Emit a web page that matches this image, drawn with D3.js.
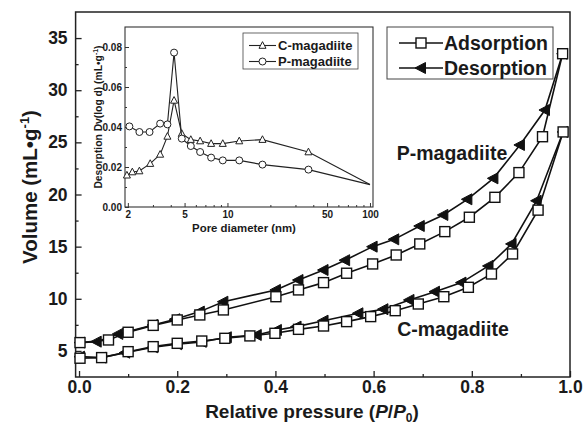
<!DOCTYPE html>
<html>
<head>
<meta charset="utf-8">
<script src="https://cdn.jsdelivr.net/npm/d3@7"></script>
<style>
body { margin: 0; background: #fff; }
text { font-family: Arial, "Liberation Sans", sans-serif; font-weight: bold; fill: #1a1a1a; }
</style>
</head>
<body>
<script>
// isotherm data, relative pressure vs volume
var pAdsX = [0.002, 0.06, 0.10, 0.151, 0.2, 0.246, 0.294, 0.401, 0.447, 0.498, 0.545, 0.598, 0.646, 0.694, 0.745, 0.795, 0.847, 0.896, 0.944, 0.985];
var pAdsY = [5.8, 6.05, 6.79, 7.45, 7.97, 8.45, 8.93, 10.2, 10.85, 11.55, 12.45, 13.34, 14.2, 15.26, 16.44, 17.82, 19.73, 22.1, 25.54, 33.5];
var pDesX = [0.002, 0.036, 0.08, 0.151, 0.196, 0.246, 0.294, 0.401, 0.447, 0.498, 0.542, 0.598, 0.642, 0.694, 0.742, 0.791, 0.844, 0.898, 0.949, 0.985];
var pDesY = [5.8, 5.89, 6.63, 7.49, 8.04, 8.77, 9.72, 10.85, 11.8, 12.76, 13.7, 15.0, 15.7, 16.98, 18.04, 19.54, 21.55, 24.75, 28.1, 33.5];
var cAdsX = [0.002, 0.046, 0.10, 0.151, 0.2, 0.25, 0.297, 0.348, 0.399, 0.447, 0.498, 0.545, 0.594, 0.644, 0.691, 0.743, 0.793, 0.84, 0.883, 0.935, 0.986];
var cAdsY = [4.3, 4.36, 4.93, 5.41, 5.73, 5.95, 6.21, 6.44, 6.69, 7.07, 7.39, 7.81, 8.29, 8.86, 9.5, 10.2, 11.1, 12.38, 14.3, 18.5, 26.0];
var cDesX = [0.002, 0.046, 0.094, 0.151, 0.2, 0.25, 0.301, 0.362, 0.403, 0.443, 0.498, 0.569, 0.62, 0.673, 0.725, 0.779, 0.834, 0.881, 0.932, 0.986];
var cDesY = [4.45, 4.36, 4.83, 5.35, 5.64, 5.87, 6.31, 6.53, 7.01, 7.33, 7.9, 8.61, 9.0, 9.89, 10.68, 11.55, 13.15, 15.26, 19.4, 26.0];

// inset: pore size distribution
var poreX = [1.97, 2.15, 2.41, 2.87, 3.37, 3.79, 4.22, 4.78, 5.53, 6.43, 7.68, 9.27, 12.1, 17.6, 37, 100];
var cPore = [0.0159, 0.0175, 0.018, 0.0217, 0.0263, 0.0353, 0.0533, 0.0367, 0.0337, 0.033, 0.0317, 0.0317, 0.033, 0.0337, 0.0275, 0.0112];
var pPoreX = [2.05, 2.41, 2.84, 3.37, 3.79, 4.22, 4.78, 5.53, 6.43, 7.68, 9.27, 12.1, 17.6, 37, 100];
var pPore = [0.0403, 0.0375, 0.0375, 0.0417, 0.0413, 0.0772, 0.0342, 0.0305, 0.0275, 0.0247, 0.0233, 0.0233, 0.0212, 0.0187, 0.0112];

var xTicks = [0, 0.2, 0.4, 0.6, 0.8, 1.0];
var yTicks = [5, 10, 15, 20, 25, 30, 35];
var insXTicks = [2, 5, 10, 50, 100];
var insYTicks = [0, 0.02, 0.04, 0.06, 0.08];

var w = 584, h = 424;
var svg = d3.select("body").append("svg").attr("width", w).attr("height", h);

// main scales
var x = d3.scaleLinear().domain([-0.007, 1.0]).range([75.6, 570]);
var y = d3.scaleLinear().domain([2.5, 37.5]).range([377, 12]);

function zip(a, b) { return a.map(function(v, i) { return [v, b[i]]; }); }
var line = d3.line().x(function(d) { return x(d[0]); }).y(function(d) { return y(d[1]); });

// minor ticks
var xAxisMinor = d3.axisBottom(x).tickValues(d3.range(0.1, 1.0, 0.2)).tickSize(-3).tickFormat("");
var yAxisMinor = d3.axisLeft(y).tickValues(d3.range(7.5, 37.5, 5)).tickSize(-3).tickFormat("");
var xAxis = d3.axisBottom(x).tickValues(xTicks).tickSize(-6).tickPadding(4).tickFormat(d3.format(".1f"));
var yAxis = d3.axisLeft(y).tickValues(yTicks).tickSize(-6).tickPadding(8);

[xAxisMinor, xAxis].forEach(function(a) {
  svg.append("g").attr("class", "axis").attr("transform", "translate(0,377)").call(a);
});
[yAxisMinor, yAxis].forEach(function(a) {
  svg.append("g").attr("class", "axis").attr("transform", "translate(75.6,0)").call(a);
});
svg.selectAll(".axis .domain").remove();
svg.selectAll(".axis line").attr("stroke", "#222").attr("stroke-width", 1.3);
svg.selectAll(".axis text").style("font-size", "17.5px");

svg.append("rect").attr("x", 75.6).attr("y", 12).attr("width", 570 - 75.6).attr("height", 365)
  .attr("fill", "none").attr("stroke", "#222").attr("stroke-width", 1.5);

// marker shapes
function square(g, s) {
  g.append("rect").attr("x", -s / 2).attr("y", -s / 2).attr("width", s).attr("height", s)
    .attr("fill", "#fff").attr("stroke", "#111").attr("stroke-width", 1.4);
}
function leftTri(g, s) {
  g.append("path").attr("d", "M" + (-s * 0.6) + ",0L" + (s * 0.45) + "," + (-s * 0.55) + "L" + (s * 0.45) + "," + (s * 0.55) + "Z")
    .attr("fill", "#111").attr("stroke", "#111").attr("stroke-width", 1);
}

function series(data, marker) {
  svg.append("path").datum(data).attr("d", line).attr("fill", "none").attr("stroke", "#111").attr("stroke-width", 1.6);
  data.forEach(function(d) {
    var g = svg.append("g").attr("transform", "translate(" + x(d[0]) + "," + y(d[1]) + ")");
    marker(g, 10);
  });
}
series(zip(cDesX, cDesY), leftTri);
series(zip(cAdsX, cAdsY), square);
series(zip(pDesX, pDesY), leftTri);
series(zip(pAdsX, pAdsY), square);

svg.append("text").attr("x", 452).attr("y", 160).attr("text-anchor", "middle").style("font-size", "19.5px").text("P-magadiite");
svg.append("text").attr("x", 453).attr("y", 336).attr("text-anchor", "middle").style("font-size", "19.5px").text("C-magadiite");

// axis titles
var xt = svg.append("text").attr("x", 312).attr("y", 418).attr("text-anchor", "middle").style("font-size", "19px");
xt.append("tspan").text("Relative pressure (");
xt.append("tspan").style("font-style", "italic").text("P");
xt.append("tspan").text("/");
xt.append("tspan").style("font-style", "italic").text("P");
xt.append("tspan").attr("dy", 4).style("font-size", "12px").text("0");
xt.append("tspan").attr("dy", -4).text(")");

var yt = svg.append("text").attr("transform", "translate(37,187) rotate(-90)").attr("text-anchor", "middle").style("font-size", "20.5px");
yt.append("tspan").text("Volume (mL\u2022g");
yt.append("tspan").attr("dy", -8).style("font-size", "13px").text("-1");
yt.append("tspan").attr("dy", 8).text(")");

// main legend
svg.append("rect").attr("x", 387).attr("y", 27).attr("width", 166).attr("height", 52)
  .attr("fill", "#fff").attr("stroke", "#444").attr("stroke-width", 1);
[["Adsorption", square, 43], ["Desorption", leftTri, 68]].forEach(function(e) {
  svg.append("line").attr("x1", 399).attr("x2", 443).attr("y1", e[2]).attr("y2", e[2]).attr("stroke", "#111").attr("stroke-width", 1.6);
  e[1](svg.append("g").attr("transform", "translate(421," + e[2] + ")"), 10);
  svg.append("text").attr("x", 444).attr("y", e[2] + 7).style("font-size", "19.5px").text(e[0]);
});

// inset
var ix = d3.scaleLog().domain([1.91, 105]).range([125, 373]);
var iy = d3.scaleLinear().domain([0, 0.09]).range([207, 27]);
var ins = svg.append("g");
ins.append("rect").attr("x", 125).attr("y", 27).attr("width", 248).attr("height", 180).attr("fill", "#fff");

var minorLog = [3, 4, 6, 7, 8, 9, 20, 30, 40, 60, 70, 80, 90];
ins.append("g").attr("class", "iaxis").attr("transform", "translate(0,207)")
  .call(d3.axisBottom(ix).tickValues(minorLog).tickSize(-2).tickFormat(""));
ins.append("g").attr("class", "iaxis").attr("transform", "translate(0,207)")
  .call(d3.axisBottom(ix).tickValues(insXTicks).tickSize(-4).tickPadding(4).tickFormat(d3.format("d")));
ins.append("g").attr("class", "iaxis").attr("transform", "translate(125,0)")
  .call(d3.axisLeft(iy).tickValues([0.01, 0.03, 0.05, 0.07]).tickSize(-2).tickFormat(""));
ins.append("g").attr("class", "iaxis").attr("transform", "translate(125,0)")
  .call(d3.axisLeft(iy).tickValues(insYTicks).tickSize(-4).tickPadding(3).tickFormat(d3.format(".2f")));
ins.selectAll(".iaxis .domain").remove();
ins.selectAll(".iaxis line").attr("stroke", "#333").attr("stroke-width", 1);
ins.selectAll(".iaxis text").style("font-size", "10px");

ins.append("rect").attr("x", 125).attr("y", 27).attr("width", 248).attr("height", 180)
  .attr("fill", "none").attr("stroke", "#333").attr("stroke-width", 1.1);

var iline = d3.line().x(function(d) { return ix(d[0]); }).y(function(d) { return iy(d[1]); });
function upTri(g, s) {
  g.append("path").attr("d", "M0," + (-s * 0.55) + "L" + (s * 0.5) + "," + (s * 0.4) + "L" + (-s * 0.5) + "," + (s * 0.4) + "Z")
    .attr("fill", "#fff").attr("stroke", "#222").attr("stroke-width", 1);
}
function circ(g, s) {
  g.append("circle").attr("r", s / 2).attr("fill", "#fff").attr("stroke", "#222").attr("stroke-width", 1);
}
function iseries(data, marker) {
  ins.append("path").datum(data).attr("d", iline).attr("fill", "none").attr("stroke", "#222").attr("stroke-width", 1.1);
  data.filter(function(d) { return d[0] < 99; }).forEach(function(d) {
    marker(ins.append("g").attr("transform", "translate(" + ix(d[0]) + "," + iy(d[1]) + ")"), 7);
  });
}
iseries(zip(poreX, cPore), upTri);
iseries(zip(pPoreX, pPore), circ);

ins.append("text").attr("x", 244).attr("y", 232).attr("text-anchor", "middle").style("font-size", "11.4px").text("Pore diameter (nm)");
var iyt = ins.append("text").attr("transform", "translate(102,117) rotate(-90)").attr("text-anchor", "middle").style("font-size", "10.3px");
iyt.append("tspan").text("Desorption Dv(log d) (mL\u2022g");
iyt.append("tspan").attr("dy", -4).style("font-size", "7px").text("-1");
iyt.append("tspan").attr("dy", 4).text(")");

ins.append("rect").attr("x", 243).attr("y", 33).attr("width", 115).attr("height", 36)
  .attr("fill", "#fff").attr("stroke", "#444").attr("stroke-width", 0.8);
[["C-magadiite", upTri, 45.5], ["P-magadiite", circ, 61.5]].forEach(function(e) {
  ins.append("line").attr("x1", 249).attr("x2", 276).attr("y1", e[2]).attr("y2", e[2]).attr("stroke", "#222").attr("stroke-width", 1.1);
  e[1](ins.append("g").attr("transform", "translate(262.5," + e[2] + ")"), 7);
  ins.append("text").attr("x", 278).attr("y", e[2] + 4.5).style("font-size", "13px").text(e[0]);
});
</script>
</body>
</html>
